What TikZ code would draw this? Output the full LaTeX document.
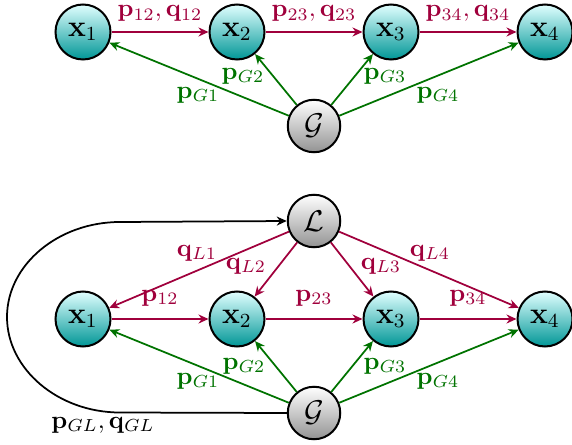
\documentclass[tikz,border=0pt]{standalone}
\usetikzlibrary{arrows.meta}
\definecolor{mred}{RGB}{160,0,60}
\definecolor{mgreen}{RGB}{0,115,0}
\definecolor{tealbot}{RGB}{0,150,150}
\begin{document}
\begin{tikzpicture}[x=0.4pt,y=-0.4pt,
  xnode/.style={circle,draw=black,line width=0.8pt,minimum size=22pt,inner sep=0pt,top color=cyan!12,bottom color=tealbot,font=\large},
  gnode/.style={circle,draw=black,line width=0.8pt,minimum size=21pt,inner sep=0pt,top color=white,bottom color=gray!85,font=\large},
  arr/.style={line width=0.7pt,-{Stealth[length=4pt,width=3.6pt,inset=1.3pt]}},
  redarr/.style={arr,mred},
  grnarr/.style={arr,mgreen},
  blkarr/.style={arr,black},
  rlab/.style={text=mred,inner sep=0.5pt},
  glab/.style={text=mgreen,inner sep=0.5pt}]
\useasboundingbox (0,0) rectangle (572,445);
% top diagram
\node[xnode] (a1) at (83,32) {$\mathbf{x}_1$};
\node[xnode] (a2) at (237,32) {$\mathbf{x}_2$};
\node[xnode] (a3) at (391,32) {$\mathbf{x}_3$};
\node[xnode] (a4) at (545,32) {$\mathbf{x}_4$};
\node[gnode] (ag) at (314,126) {$\mathcal{G}$};
\draw[redarr] (a1) -- (a2);
\draw[redarr] (a2) -- (a3);
\draw[redarr] (a3) -- (a4);
\draw[grnarr] (ag) -- (a1);
\draw[grnarr] (ag) -- (a2);
\draw[grnarr] (ag) -- (a3);
\draw[grnarr] (ag) -- (a4);
\node[rlab] (ta12) at (160,13.5) {$\mathbf{p}_{12},\mathbf{q}_{12}$};
\node[rlab] (ta23) at (314,13.5) {$\mathbf{p}_{23},\mathbf{q}_{23}$};
\node[rlab] (ta34) at (468,13.5) {$\mathbf{p}_{34},\mathbf{q}_{34}$};
\node[glab] (tag1) at (198,95) {$\mathbf{p}_{G1}$};
\node[glab] (tag2) at (243,76) {$\mathbf{p}_{G2}$};
\node[glab] (tag3) at (385,76) {$\mathbf{p}_{G3}$};
\node[glab] (tag4) at (438,95) {$\mathbf{p}_{G4}$};
% bottom diagram
\node[gnode] (bl) at (314,221) {$\mathcal{L}$};
\node[xnode] (b1) at (83,319) {$\mathbf{x}_1$};
\node[xnode] (b2) at (237,319) {$\mathbf{x}_2$};
\node[xnode] (b3) at (391,319) {$\mathbf{x}_3$};
\node[xnode] (b4) at (545,319) {$\mathbf{x}_4$};
\node[gnode] (bg) at (314,413) {$\mathcal{G}$};
\draw[redarr] (b1) -- (b2);
\draw[redarr] (b2) -- (b3);
\draw[redarr] (b3) -- (b4);
\draw[redarr] (bl) -- (b1);
\draw[redarr] (bl) -- (b2);
\draw[redarr] (bl) -- (b3);
\draw[redarr] (bl) -- (b4);
\draw[grnarr] (bg) -- (b1);
\draw[grnarr] (bg) -- (b2);
\draw[grnarr] (bg) -- (b3);
\draw[grnarr] (bg) -- (b4);
\coordinate (lbot) at (120,412.5);
\coordinate (lft) at (7,317);
\coordinate (ltop) at (120,222);
\draw[blkarr] (bg.west) -- (lbot) .. controls (58,412.5) and (7,369) .. (lft)
  .. controls (7,265) and (58,222) .. (ltop) -- (bl.west);
\node[rlab] (tl1) at (197,253) {$\mathbf{q}_{L1}$};
\node[rlab] (tl2) at (246,266) {$\mathbf{q}_{L2}$};
\node[rlab] (tl3) at (381,266) {$\mathbf{q}_{L3}$};
\node[rlab] (tl4) at (430,253) {$\mathbf{q}_{L4}$};
\node[rlab] (tb12) at (160,298) {$\mathbf{p}_{12}$};
\node[rlab] (tb23) at (314,298) {$\mathbf{p}_{23}$};
\node[rlab] (tb34) at (468,298) {$\mathbf{p}_{34}$};
\node[glab] (tbg1) at (198,381) {$\mathbf{p}_{G1}$};
\node[glab] (tbg2) at (244,366) {$\mathbf{p}_{G2}$};
\node[glab] (tbg3) at (385,366) {$\mathbf{p}_{G3}$};
\node[glab] (tbg4) at (438,381) {$\mathbf{p}_{G4}$};
\node[inner sep=0.5pt] (tgl) at (103,425) {$\mathbf{p}_{GL},\mathbf{q}_{GL}$};
\end{tikzpicture}
\end{document}
